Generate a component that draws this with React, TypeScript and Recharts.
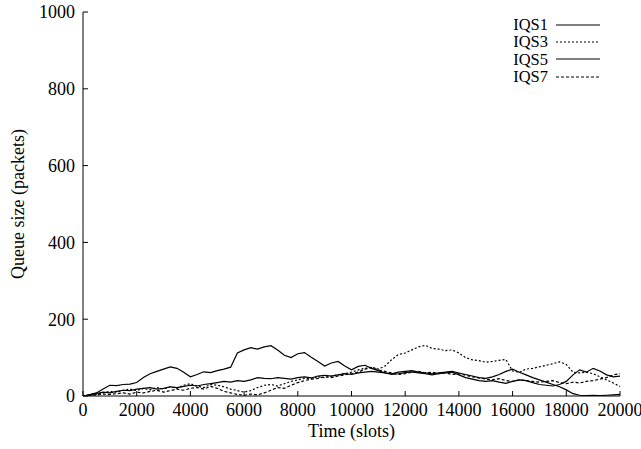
import React from "react";
import { LineChart, Line, XAxis, YAxis, Legend } from "recharts";

const timeSlots = [
  0, 250, 500, 750, 1000, 1250, 1500, 1750, 2000, 2250, 2500, 2750, 3000, 3250, 3500, 3750,
  4000, 4250, 4500, 4750, 5000, 5250, 5500, 5750, 6000, 6250, 6500, 6750, 7000, 7250, 7500, 7750,
  8000, 8250, 8500, 8750, 9000, 9250, 9500, 9750, 10000, 10250, 10500, 10750, 11000, 11250, 11500, 11750,
  12000, 12250, 12500, 12750, 13000, 13250, 13500, 13750, 14000, 14250, 14500, 14750, 15000, 15250, 15500, 15750,
  16000, 16250, 16500, 16750, 17000, 17250, 17500, 17750, 18000, 18250, 18500, 18750, 19000, 19250, 19500, 19750,
  20000,
];

const iqs1 = [
  0, 4, 8, 18, 28, 27, 30, 31, 35, 48, 58, 64, 70, 76, 72, 62,
  50, 56, 63, 61, 66, 70, 75, 112, 120, 126, 122, 128, 131, 120, 106, 100,
  110, 113, 101, 90, 78, 86, 90, 78, 68, 77, 80, 72, 66, 60, 56, 58,
  61, 63, 60, 58, 55, 58, 60, 62, 55, 48, 44, 40, 38, 40, 36, 33,
  38, 42, 40, 35, 30, 28, 26, 30, 38, 55, 68, 62, 72, 65, 55, 50,
  52,
];

const iqs3 = [
  0, 2, 5, 8, 12, 10, 15, 18, 14, 20, 16, 22, 18, 24, 20, 28,
  32, 26, 22, 30, 28, 24, 18, 14, 10, 14, 22, 28, 30, 26, 32, 38,
  42, 46, 45, 50, 48, 52, 55, 58, 62, 68, 72, 75, 70, 78, 95, 108,
  112, 120, 128, 132, 124, 122, 118, 120, 112, 100, 94, 92, 88, 90, 93, 95,
  65, 62, 70, 72, 76, 80, 84, 89, 82, 62, 60, 62, 58, 50, 42, 34,
  25,
];

const iqs5 = [
  0, 3, 6, 10, 8, 12, 15, 14, 18, 20, 22, 18, 20, 24, 22, 25,
  28, 26, 30, 32, 35, 38, 36, 40, 38, 42, 48, 46, 45, 48, 46, 44,
  48, 50, 47, 52, 54, 52, 55, 58, 56, 60, 62, 64, 62, 60, 58, 62,
  64, 66, 62, 60, 58, 60, 62, 64, 60, 56, 52, 48, 46, 50, 56, 64,
  70, 62, 55, 48, 42, 36, 30, 24, 16, 6, 2, 1, 2, 1, 2, 3,
  4,
];

const iqs7 = [
  0, 1, 3, 5, 4, 6, 8, 5, 10, 8, 12, 15, 10, 14, 18, 15,
  20, 22, 18, 25, 20, 12, 8, 4, 2, 5, 3, 8, 15, 22, 20, 28,
  35, 40, 44, 46, 50, 48, 52, 55, 58, 62, 70, 74, 68, 64, 60, 56,
  58, 62, 64, 60, 62, 58, 60, 56, 58, 54, 50, 47, 44, 42, 45, 40,
  38, 42, 40, 38, 36, 38, 40, 35, 32, 36, 34, 38, 40, 44, 48, 55,
  58,
];

const seriesNames = ["IQS1", "IQS3", "IQS5", "IQS7"];
const seriesValues = [iqs1, iqs3, iqs5, iqs7];
const seriesDash = ["", "2 2", "", "3 2"];

const xTicks = [0, 2000, 4000, 6000, 8000, 10000, 12000, 14000, 16000, 18000, 20000];
const yTicks = [0, 200, 400, 600, 800, 1000];

const rows = timeSlots.map((t, i) => {
  const r: Record<string, number> = { t };
  seriesNames.forEach((n, k) => {
    r[n] = seriesValues[k][i];
  });
  return r;
});

const FONT = "'Liberation Serif', 'DejaVu Serif', serif";
const tickStyle = { fill: "#000", fontSize: 18, fontFamily: FONT };

const renderLegend = (props: any) => {
  const payload = props.payload || [];
  return (
    <div style={{ fontFamily: FONT, fontSize: 16.5, color: "#000" }}>
      {payload.map((e: any) => {
        const idx = seriesNames.indexOf(e.value);
        return (
          <div
            key={e.value}
            style={{ display: "flex", alignItems: "center", height: 17.3, lineHeight: "17px" }}
          >
            <span style={{ width: 40, textAlign: "right", display: "inline-block" }}>{e.value}</span>
            <svg width={44} height={4} style={{ marginLeft: 8, display: "block" }}>
              <line
                x1={0}
                y1={2}
                x2={44}
                y2={2}
                stroke="#000"
                strokeWidth={1.2}
                strokeDasharray={seriesDash[idx] || undefined}
              />
            </svg>
          </div>
        );
      })}
    </div>
  );
};

export default function App() {
  return (
    <div style={{ position: "absolute", left: 0, top: 0, background: "#fff" }}>
      <LineChart
        width={641}
        height={449}
        data={rows}
        margin={{ top: 12, right: 21, bottom: 0, left: 0 }}
      >
        <XAxis
          xAxisId="b"
          dataKey="t"
          type="number"
          domain={[0, 20000]}
          allowDataOverflow
          ticks={xTicks}
          interval={0}
          height={53}
          tickSize={-5}
          tickMargin={12}
          tickLine={{ stroke: "#000" }}
          axisLine={{ stroke: "#000" }}
          tick={tickStyle}
          label={{
            value: "Time (slots)",
            position: "insideBottom",
            offset: 12,
            style: { fill: "#000", fontSize: 18, fontFamily: FONT },
          }}
        />
        <XAxis
          xAxisId="top"
          orientation="top"
          dataKey="t"
          type="number"
          domain={[0, 20000]}
          allowDataOverflow
          ticks={xTicks}
          interval={0}
          height={0}
          tickSize={-5}
          tickMargin={0}
          tickFormatter={() => ""}
          tickLine={{ stroke: "#000" }}
          axisLine={{ stroke: "#000" }}
        />
        <YAxis
          yAxisId="l"
          type="number"
          domain={[0, 1000]}
          allowDataOverflow
          ticks={yTicks}
          interval={0}
          width={83}
          tickSize={-5}
          tickMargin={13}
          tickLine={{ stroke: "#000" }}
          axisLine={{ stroke: "#000" }}
          tick={tickStyle}
          label={{
            value: "Queue size (packets)",
            angle: -90,
            position: "insideLeft",
            offset: 18,
            style: { fill: "#000", fontSize: 18, fontFamily: FONT, textAnchor: "middle" },
          }}
        />
        <YAxis
          yAxisId="r"
          orientation="right"
          type="number"
          domain={[0, 1000]}
          allowDataOverflow
          ticks={yTicks}
          interval={0}
          width={0}
          tickSize={-5}
          tickMargin={0}
          tickFormatter={() => ""}
          tickLine={{ stroke: "#000" }}
          axisLine={{ stroke: "#000" }}
        />
        <Legend
          layout="horizontal"
          verticalAlign="middle"
          align="center"
          content={renderLegend}
          wrapperStyle={{ top: 16, left: 508, width: 100, height: 70 }}
        />
        {seriesNames.map((n, k) => (
          <Line
            key={n}
            xAxisId="b"
            yAxisId="l"
            type="linear"
            dataKey={n}
            name={n}
            stroke="#000"
            strokeWidth={1.2}
            strokeDasharray={seriesDash[k] || undefined}
            dot={false}
            activeDot={false}
            isAnimationActive={false}
          />
        ))}
      </LineChart>
    </div>
  );
}
